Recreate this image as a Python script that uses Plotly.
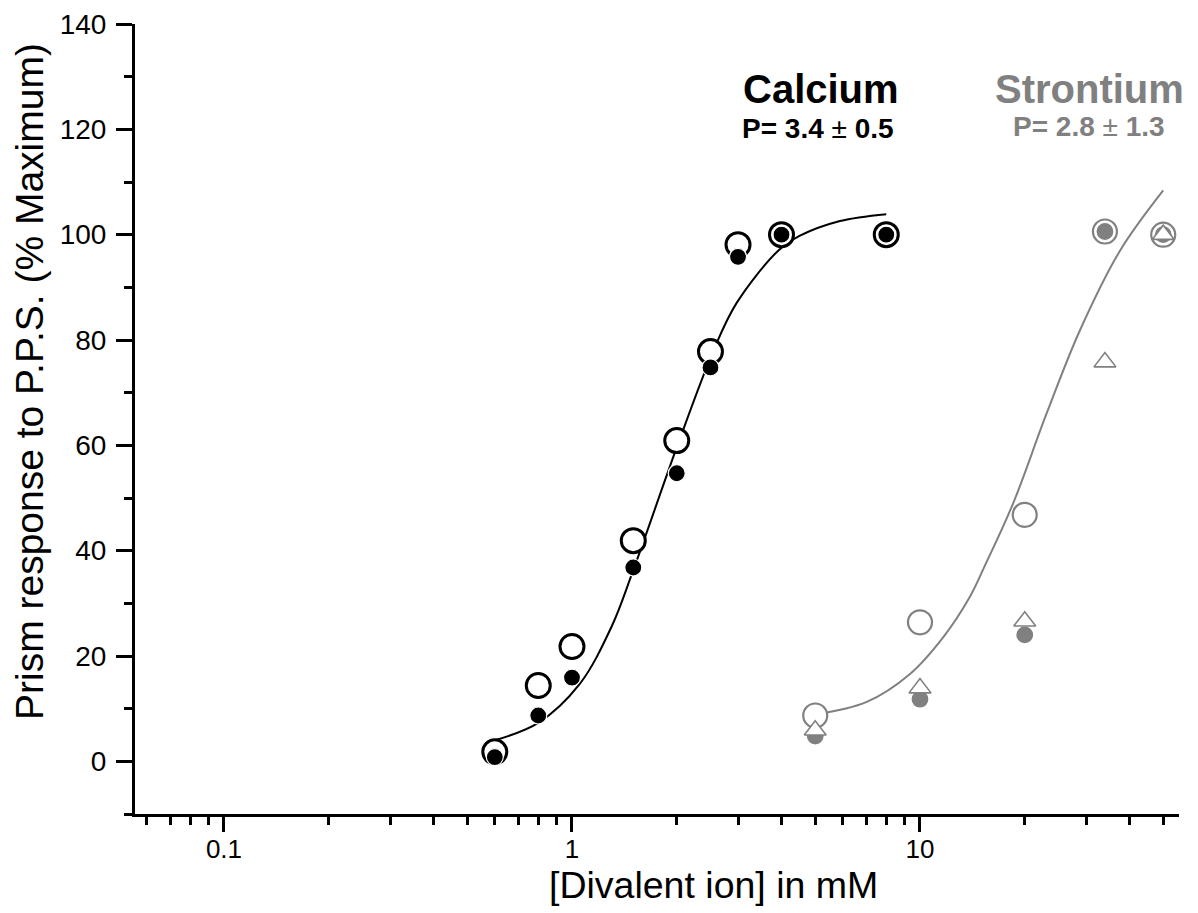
import math
import plotly.graph_objects as go

# ---- data ----
ca_x = [0.6, 0.8, 1.0, 1.5, 2.0, 2.5, 3.0, 4.0, 8.0]
ca_open = [1.8, 14.4, 21.8, 41.9, 60.9, 77.8, 98.1, 100, 100]
ca_filled = [0.8, 8.7, 15.9, 36.8, 54.7, 74.8, 95.8, 100, 100]

ca_fit_x = [0.6, 0.8, 1.05, 1.3, 1.5, 2.0, 2.55, 2.97, 3.92, 4.52, 5.89, 8.0]
ca_fit_y = [4.0, 7.3, 14.6, 25.6, 36.3, 59.6, 78.0, 87.0, 97.0, 99.8, 102.6, 103.9]

sr_x = [5, 10, 20, 34, 50]
sr_open = [8.7, 26.4, 46.8, 100.6, 100]
sr_filled = [4.8, 11.8, 24.0, 100.6, 100]
sr_tri = [5.9, 13.9, 26.6, 75.8, 100]

sr_fit_x = [5, 7.03, 9.36, 11.67, 13.9, 15.4, 18.5, 23.1, 28.8, 37.6, 50]
sr_fit_y = [8.9, 11.3, 16.6, 23.6, 31.2, 37.3, 48.9, 66.0, 81.8, 97.0, 108.4]

x_tickvals = [0.1, 1, 10]
x_ticktext = ["0.1", "1", "10"]
x_minor = [0.06, 0.07, 0.08, 0.09,
           0.2, 0.3, 0.4, 0.5, 0.6, 0.7, 0.8, 0.9,
           2, 3, 4, 5, 6, 7, 8, 9,
           20, 30, 40, 50]
y_tickvals = [0, 20, 40, 60, 80, 100, 120, 140]

BLACK = "#000000"
GRAY = "#808080"
FONT = "Arial, Liberation Sans, sans-serif"

fig = go.Figure()

# fitted curves
fig.add_trace(go.Scatter(x=ca_fit_x, y=ca_fit_y, mode="lines",
                         line=dict(color=BLACK, width=2, shape="spline", smoothing=1.0)))
fig.add_trace(go.Scatter(x=sr_fit_x, y=sr_fit_y, mode="lines",
                         line=dict(color=GRAY, width=2, shape="spline", smoothing=1.0)))

# calcium markers
fig.add_trace(go.Scatter(x=ca_x, y=ca_open, mode="markers",
                         marker=dict(symbol="circle", size=24, color="white",
                                     line=dict(color=BLACK, width=3))))
fig.add_trace(go.Scatter(x=ca_x, y=ca_filled, mode="markers",
                         marker=dict(symbol="circle", size=17, color=BLACK,
                                     line=dict(color="white", width=1.2))))

# strontium markers
fig.add_trace(go.Scatter(x=sr_x, y=sr_open, mode="markers",
                         marker=dict(symbol="circle", size=24, color="white",
                                     line=dict(color=GRAY, width=2.2))))
fig.add_trace(go.Scatter(x=sr_x, y=sr_filled, mode="markers",
                         marker=dict(symbol="circle", size=18, color=GRAY,
                                     line=dict(color="white", width=1.2))))
fig.add_trace(go.Scatter(x=sr_x, y=sr_tri, mode="markers",
                         marker=dict(symbol="triangle-up", size=19, color="white",
                                     line=dict(color=GRAY, width=1.6))))

# page offset of the figure inside the browser (body margin)
OFF = 8
W, H = 1190, 905
L, R, T, B = 127, 19, 16, 99
pw, ph = W - L - R, H - T - B


def px_to_paper(sx, sy):
    fx, fy = sx - OFF, sy - OFF
    return (fx - L) / pw, (H - B - fy) / ph


annotations = []


def add_text(sx, sy, text, size, color, angle=0):
    xp, yp = px_to_paper(sx, sy)
    annotations.append(dict(x=xp, y=yp, xref="paper", yref="paper", text=text,
                            showarrow=False, xanchor="center", yanchor="middle",
                            textangle=angle,
                            font=dict(family=FONT, size=size, color=color)))


add_text(821, 89, "<b>Calcium</b>", 40, BLACK)
add_text(818, 128, "<b>P=&nbsp;3.4</b>&nbsp;±&nbsp;<b>0.5</b>", 28, BLACK)
add_text(1089, 89, "<b>Strontium</b>", 40, GRAY)
add_text(1089, 126, "<b>P=&nbsp;2.8</b>&nbsp;±&nbsp;<b>1.3</b>", 28, GRAY)
add_text(29, 382, "Prism response to P.P.S. (% Maximum)", 39, BLACK, -90)
add_text(713, 885, "[Divalent ion] in mM", 37.5, BLACK)

fig.update_layout(
    width=W, height=H,
    margin=dict(l=L, r=R, t=T, b=B, autoexpand=False),
    paper_bgcolor="white", plot_bgcolor="white",
    showlegend=False,
    annotations=annotations,
    font=dict(family=FONT, color=BLACK),
)

fig.update_xaxes(
    type="log",
    automargin=False,
    range=[math.log10(0.0555), math.log10(55.5)],
    showgrid=False, zeroline=False,
    showline=True, linecolor=BLACK, linewidth=3,
    ticks="outside", ticklen=15, tickwidth=3, tickcolor=BLACK,
    tickmode="array", tickvals=x_tickvals, ticktext=x_ticktext,
    tickfont=dict(family=FONT, size=26, color=BLACK),
    ticklabelstandoff=-5,
    minor=dict(ticks="outside", ticklen=8, tickwidth=3, tickcolor=BLACK,
               tickmode="array", tickvals=x_minor, showgrid=False),
)

fig.update_yaxes(
    automargin=False,
    range=[-10, 140],
    showgrid=False, zeroline=False,
    showline=True, linecolor=BLACK, linewidth=3,
    ticks="outside", ticklen=16, tickwidth=3, tickcolor=BLACK,
    tickmode="array", tickvals=y_tickvals,
    tickfont=dict(family=FONT, size=28, color=BLACK),
    ticklabelstandoff=4,
    minor=dict(ticks="outside", ticklen=8, tickwidth=3, tickcolor=BLACK,
               dtick=10, tick0=0, showgrid=False),
)

fig.write_html("out.html")
